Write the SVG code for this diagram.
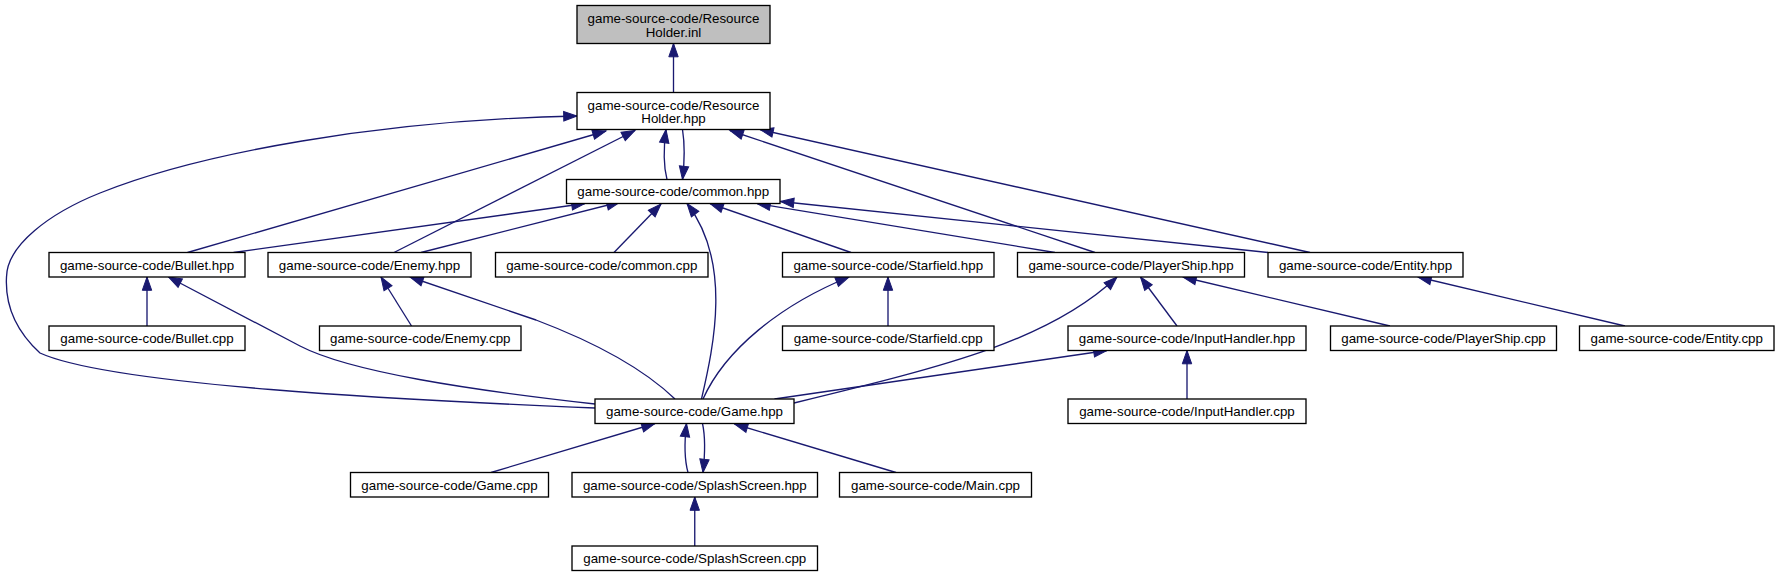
<svg xmlns="http://www.w3.org/2000/svg" width="1779" height="576" viewBox="0 0 1779 576">
<style>
.node rect{fill:#ffffff;stroke:#000000;stroke-width:1.33}
.root rect{fill:#bfbfbf}
.node text{font-family:"Liberation Sans",Arial,Helvetica,sans-serif;font-size:13.33px;text-anchor:middle;fill:#000000}
.edges path{fill:none;stroke:#191970;stroke-width:1.33;marker-end:url(#arr)}
</style>
<defs>
<marker id="arr" markerUnits="userSpaceOnUse" viewBox="0 0 13.3 9.4" markerWidth="13.3" markerHeight="9.4" refX="13.3" refY="4.7" orient="auto" overflow="visible">
<path d="M0,0 L13.3,4.7 L0,9.4 Z" fill="#191970" stroke="#191970" stroke-width="1"/>
</marker>
</defs>
<rect width="1779" height="576" fill="#ffffff"/>
<g class="edges">
<path d="M673.5,92.5 L673.5,43.5"/>
<path d="M667,179.5 C664,168 663,152 666,129.5"/>
<path d="M682.5,129.5 C684.5,142 685,158 682.5,179.5"/>
<path d="M187.5,252.5 L606,131"/>
<path d="M394,252.5 L635,130.5"/>
<path d="M595,408 C400,400 110,385 40,353 C15,330 5,305 6.5,277 C7,245 50,213 100,193 C200,153 380,120 577,116"/>
<path d="M1095,252.5 L730,130.5"/>
<path d="M1310,252.5 L760,129.5"/>
<path d="M233.5,252.5 L585,203.5"/>
<path d="M421,252.5 L620,202"/>
<path d="M614,252.5 L661,204"/>
<path d="M701.5,399 C714,345 732,262 687,203.5"/>
<path d="M851,252.5 L710,203.5"/>
<path d="M1055,252.5 L757,203.5"/>
<path d="M1268,252.5 L780.5,201.5"/>
<path d="M147,326 L147,277"/>
<path d="M595,404 C470,390 350,372 300,346 L168.5,277"/>
<path d="M411.5,326 L381,277"/>
<path d="M675,399 C650,375 610,348 536,320 L410,277"/>
<path d="M888,326 L888,277"/>
<path d="M703,399 C725,350 780,305 849,277"/>
<path d="M794,403 C950,365 1050,340 1117,277"/>
<path d="M1177,326 L1140.5,277"/>
<path d="M1390,326 L1183,277"/>
<path d="M1625,326 L1418,277"/>
<path d="M774.5,399 L1107,350.5"/>
<path d="M1187,399 L1187,350.5"/>
<path d="M491,472.5 L655,423.5"/>
<path d="M688,472.5 C684.5,460 684,445 686.5,423.5"/>
<path d="M702.5,423.5 C705,435 705.5,450 703,472.5"/>
<path d="M896,472.5 L734.5,424"/>
<path d="M694.75,546 L694.75,497"/>
</g>
<g id="node_resourceholder_inl" class="node root"><rect x="577" y="5.5" width="193" height="38"/><text x="673.5" y="23.2">game-source-code/Resource</text><text x="673.5" y="36.5">Holder.inl</text></g>
<g id="node_resourceholder_hpp" class="node"><rect x="577" y="92.5" width="193" height="37"/><text x="673.5" y="109.7">game-source-code/Resource</text><text x="673.5" y="123">Holder.hpp</text></g>
<g id="node_common_hpp" class="node"><rect x="566.5" y="179.5" width="213.5" height="24"/><text x="673.25" y="196.3">game-source-code/common.hpp</text></g>
<g id="node_bullet_hpp" class="node"><rect x="49" y="252.5" width="196" height="24.5"/><text x="147" y="269.5">game-source-code/Bullet.hpp</text></g>
<g id="node_enemy_hpp" class="node"><rect x="268" y="252.5" width="203" height="24.5"/><text x="369.5" y="269.5">game-source-code/Enemy.hpp</text></g>
<g id="node_common_cpp" class="node"><rect x="495.5" y="252.5" width="212.5" height="24.5"/><text x="601.75" y="269.5">game-source-code/common.cpp</text></g>
<g id="node_starfield_hpp" class="node"><rect x="782.5" y="252.5" width="211.5" height="24.5"/><text x="888.25" y="269.5">game-source-code/Starfield.hpp</text></g>
<g id="node_playership_hpp" class="node"><rect x="1017.5" y="252.5" width="227" height="24.5"/><text x="1131" y="269.5">game-source-code/PlayerShip.hpp</text></g>
<g id="node_entity_hpp" class="node"><rect x="1268" y="252.5" width="195" height="24.5"/><text x="1365.5" y="269.5">game-source-code/Entity.hpp</text></g>
<g id="node_bullet_cpp" class="node"><rect x="49" y="326" width="196" height="24.5"/><text x="147" y="343">game-source-code/Bullet.cpp</text></g>
<g id="node_enemy_cpp" class="node"><rect x="319.5" y="326" width="201.5" height="24.5"/><text x="420.25" y="343">game-source-code/Enemy.cpp</text></g>
<g id="node_starfield_cpp" class="node"><rect x="782.5" y="326" width="211.5" height="24.5"/><text x="888.25" y="343">game-source-code/Starfield.cpp</text></g>
<g id="node_inputhandler_hpp" class="node"><rect x="1068" y="326" width="238" height="24.5"/><text x="1187" y="343">game-source-code/InputHandler.hpp</text></g>
<g id="node_playership_cpp" class="node"><rect x="1330.5" y="326" width="226" height="24.5"/><text x="1443.5" y="343">game-source-code/PlayerShip.cpp</text></g>
<g id="node_entity_cpp" class="node"><rect x="1579.5" y="326" width="194.5" height="24.5"/><text x="1676.75" y="343">game-source-code/Entity.cpp</text></g>
<g id="node_game_hpp" class="node"><rect x="595" y="399" width="199" height="24.5"/><text x="694.5" y="416">game-source-code/Game.hpp</text></g>
<g id="node_inputhandler_cpp" class="node"><rect x="1068" y="399" width="238" height="24.5"/><text x="1187" y="416">game-source-code/InputHandler.cpp</text></g>
<g id="node_game_cpp" class="node"><rect x="350.5" y="472.5" width="198" height="24.5"/><text x="449.5" y="489.5">game-source-code/Game.cpp</text></g>
<g id="node_splashscreen_hpp" class="node"><rect x="572" y="472.5" width="245.5" height="24.5"/><text x="694.75" y="489.5">game-source-code/SplashScreen.hpp</text></g>
<g id="node_main_cpp" class="node"><rect x="839.5" y="472.5" width="192" height="24.5"/><text x="935.5" y="489.5">game-source-code/Main.cpp</text></g>
<g id="node_splashscreen_cpp" class="node"><rect x="572" y="546" width="245.5" height="24.5"/><text x="694.75" y="563">game-source-code/SplashScreen.cpp</text></g>
</svg>
